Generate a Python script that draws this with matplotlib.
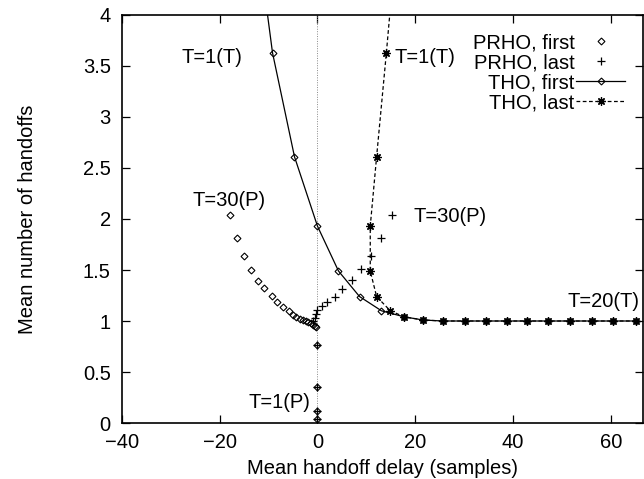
import numpy as np
import matplotlib.pyplot as plt

plt.rcParams['font.family'] = ['Liberation Sans', 'DejaVu Sans']

# PRHO, first (points only)
prho_first_x = [-17.8, -16.4, -15.0, -13.5, -12.1, -10.9, -9.4, -8.2, -7.0, -5.9, -5.1,
                -4.3, -3.6, -3.0, -2.4, -1.9, -1.4, -1.0, -0.6, -0.3, 0.0, 0.0, 0.0, 0.0]
prho_first_y = [2.04, 1.81, 1.64, 1.50, 1.39, 1.32, 1.25, 1.19, 1.14, 1.10, 1.06,
                1.04, 1.02, 1.01, 1.00, 0.99, 0.98, 0.96, 0.95, 0.94, 0.76, 0.35, 0.12, 0.04]

# PRHO, last (points only)
prho_last_x = [-1.0, -0.6, -0.3, 0.0, 1.0, 2.0, 3.5, 5.1, 7.0, 9.0, 10.9, 13.1, 15.2,
               0.0, 0.0, 0.0, 0.0]
prho_last_y = [1.00, 1.03, 1.07, 1.11, 1.15, 1.19, 1.24, 1.31, 1.40, 1.51, 1.64, 1.81, 2.04,
               0.76, 0.35, 0.12, 0.04]

# THO, first (solid line)
tho_first_x = [-13.5, -9.2, -4.7, 0.0, 4.3, 8.6, 13.1, 17.8, 21.6, 25.6, 30.1, 34.4,
               38.7, 42.8, 47.1, 51.6, 56.1, 60.5, 65.2]
tho_first_y = [5.2, 3.63, 2.61, 1.93, 1.49, 1.24, 1.10, 1.04, 1.01, 1.0, 1.0, 1.0,
               1.0, 1.0, 1.0, 1.0, 1.0, 1.0, 1.0]

# THO, last (dashed line)
tho_last_x = [17.0, 14.1, 12.1, 10.8, 10.8, 12.1, 14.9, 17.8, 21.6, 25.6, 30.1, 34.4,
              38.7, 42.8, 47.1, 51.6, 56.1, 60.5, 65.2]
tho_last_y = [5.2, 3.63, 2.61, 1.93, 1.49, 1.24, 1.10, 1.04, 1.01, 1.0, 1.0, 1.0,
              1.0, 1.0, 1.0, 1.0, 1.0, 1.0, 1.0]

# annotations: (text, x, y)
labels = [('T=1(T)', -21.6, 3.58), ('T=1(T)', 21.9, 3.58),
          ('T=30(P)', -18.0, 2.18), ('T=30(P)', 27.2, 2.02),
          ('T=1(P)', -7.8, 0.2), ('T=20(T)', 58.5, 1.19)]

fig = plt.figure(figsize=(6.44, 4.79), dpi=100)
ax = fig.add_axes([0.1894, 0.1169, 0.8090, 0.8518])

ax.plot([0, 0], [0, 4], color='#888888', lw=0.7, ls=(0, (1, 1.5)))

ax.plot(prho_first_x, prho_first_y, ls='none', marker='D', ms=3.5, mfc='none',
        mec='black', mew=0.8, label='PRHO, first')
ax.plot(prho_last_x, prho_last_y, ls='none', marker='+', ms=5.5, color='black',
        mew=0.9, label='PRHO, last')
ax.plot(tho_first_x, tho_first_y, '-', color='black', lw=0.9, marker='D', ms=3.5,
        mfc='none', mew=0.8, label='THO, first')
ax.plot(tho_last_x, tho_last_y, color='black', lw=0.9, ls=(0, (3, 2)),
        marker=(8, 2, 0), ms=6, mew=0.9, label='THO, last')

for txt, x, y in labels:
    ax.text(x, y, txt, fontsize=14.5, ha='center', va='center')

ax.set_xlim(-40, 66.6)
ax.set_ylim(0, 4)
ax.set_xticks([-40, -20, 0, 20, 40, 60])
ax.set_yticks([0, 0.5, 1, 1.5, 2, 2.5, 3, 3.5, 4])
ax.set_yticklabels(['0', '0.5', '1', '1.5', '2', '2.5', '3', '3.5', '4'])
ax.tick_params(direction='in', length=6, width=0.9, top=True, right=True,
               labelsize=14.5)
ax.tick_params(axis='y', pad=8)
ax.tick_params(axis='x', pad=7)
for s in ax.spines.values():
    s.set_linewidth(1.2)

ax.set_xlabel('Mean handoff delay (samples)', fontsize=14.5, labelpad=5)
ax.set_ylabel('Mean number of handoffs', fontsize=14.5, labelpad=33)

ax.legend(loc='upper right', bbox_to_anchor=(0.965, 0.955), frameon=False,
          markerfirst=False, numpoints=1, handlelength=2.4, handletextpad=0.1,
          labelspacing=0.05, borderpad=0, borderaxespad=0, fontsize=14.5)

plt.savefig('out.png', dpi=100)
